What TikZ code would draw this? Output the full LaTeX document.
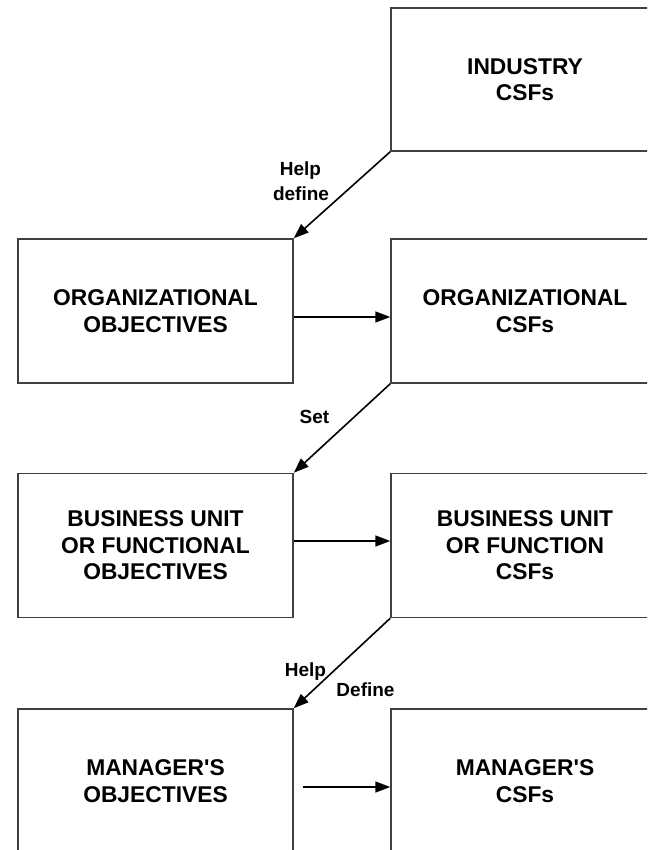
\documentclass[tikz,border=0pt]{standalone}
\usepackage{fontspec}
\setmainfont{Liberation Sans}
\usetikzlibrary{arrows.meta,calc}
\begin{document}
\begin{tikzpicture}[x=1pt,y=-1pt,
  box/.style={draw=black!75, line width=1.5pt, align=center,
    font=\fontsize{22.8}{26.5}\selectfont\bfseries, inner sep=0pt},
  lbox/.style={box, minimum width=275pt, minimum height=144pt},
  rbox/.style={box, minimum width=268pt, minimum height=144pt},
  link/.style={draw=black, line width=1.6pt, -{Triangle[length=15pt,width=11pt]}},
  lbl/.style={font=\fontsize{19}{24}\selectfont\bfseries, inner sep=0pt, anchor=base}]
\useasboundingbox (0,0) rectangle (647,850);
\begin{scope}
\clip (0,0) rectangle (647,850);
% boxes: objectives on the left, CSFs on the right
\node[rbox, minimum height=143pt] (ind) at (525,79.5) {INDUSTRY\\CSFs};
\node[lbox] (orgobj) at (155.5,311) {ORGANIZATIONAL\\OBJECTIVES};
\node[rbox] (orgcsf) at (525,311) {ORGANIZATIONAL\\CSFs};
\node[lbox] (buobj) at (155.5,545.5) {BUSINESS UNIT\\OR FUNCTIONAL\\OBJECTIVES};
\node[rbox] (bucsf) at (525,545.5) {BUSINESS UNIT\\OR FUNCTION\\CSFs};
\node[lbox] (mgrobj) at (155.5,781) {MANAGER\textquotesingle S\\OBJECTIVES};
\node[rbox] (mgrcsf) at (525,781) {MANAGER\textquotesingle S\\CSFs};
% diagonal links between rows
\draw[link] (ind.south west) -- (orgobj.north east);
\draw[link] (orgcsf.south west) -- (buobj.north east);
\draw[link] (bucsf.south west) -- (mgrobj.north east);
% horizontal links within rows
\draw[link] ($(orgobj.east)+(0,6)$) -- ($(orgcsf.west)+(0,6)$);
\draw[link] ($(buobj.east)+(0,-4.5)$) -- ($(bucsf.west)+(0,-4.5)$);
\draw[link] ($(mgrobj.east)+(9,6)$) -- ($(mgrcsf.west)+(0,6)$);
% link labels
\node[lbl] (l1a) at (300.5,176) {Help};
\node[lbl] (l1b) at (301,201) {define};
\node[lbl] (l2) at (314.5,423) {Set};
\node[lbl] (l3a) at (305.5,676) {Help};
\node[lbl] (l3b) at (365.5,696) {Define};
\end{scope}
\end{tikzpicture}
\end{document}
